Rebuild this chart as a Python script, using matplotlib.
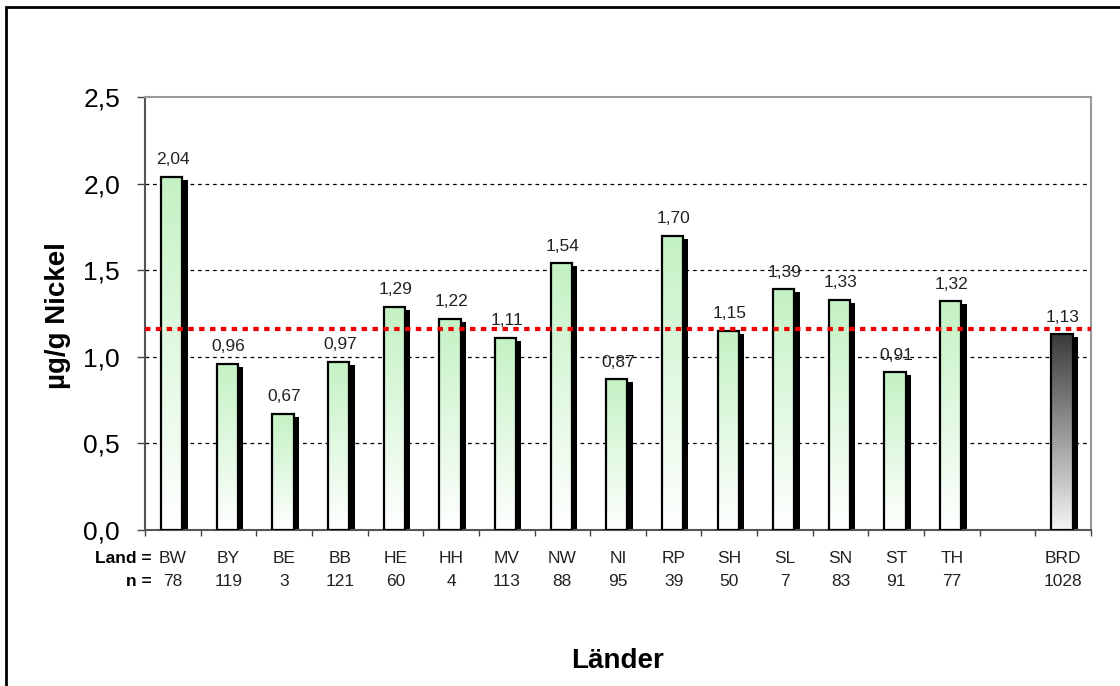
import numpy as np
import matplotlib
matplotlib.use('Agg')
import matplotlib.pyplot as plt
from matplotlib.colors import LinearSegmentedColormap
from matplotlib.patches import Rectangle
from matplotlib.ticker import FuncFormatter, FixedLocator

plt.rcParams['font.family'] = ['Liberation Sans', 'DejaVu Sans']

# Nickel in soil by federal state (mean µg/g)
lands = ['BW', 'BY', 'BE', 'BB', 'HE', 'HH', 'MV', 'NW', 'NI', 'RP', 'SH', 'SL', 'SN', 'ST', 'TH']
values = [2.04, 0.96, 0.67, 0.97, 1.29, 1.22, 1.11, 1.54, 0.87, 1.70, 1.15, 1.39, 1.33, 0.91, 1.32]
counts = [78, 119, 3, 121, 60, 4, 113, 88, 95, 39, 50, 7, 83, 91, 77]
total_label = 'BRD'
total_value = 1.13
total_count = 1028
reference_level = 1.16

fig = plt.figure(figsize=(11.2, 6.86), dpi=100)
ax = fig.add_axes([0.1295, 0.2274, 0.8445, 0.6312])

green = LinearSegmentedColormap.from_list('g', ['#ffffff', '#c4f2c4'])
grey = LinearSegmentedColormap.from_list('k', ['#f4f4f4', '#3a3a3a'])
grad = np.linspace(0, 1, 256).reshape(-1, 1)

width = 0.38
dx = 0.095   # shadow shift to the right
dy = 0.017   # shadow shift downwards

def draw_bar(x, h, cmap):
    x0 = x - width / 2 - 0.02
    # black drop shadow
    ax.add_patch(Rectangle((x0 + dx, 0), width, h - dy, facecolor='black',
                           edgecolor='black', lw=0, zorder=2))
    # gradient fill
    ax.imshow(grad, extent=[x0, x0 + width, 0, h], origin='lower', cmap=cmap,
              aspect='auto', zorder=3, interpolation='bilinear')
    ax.add_patch(Rectangle((x0, 0), width, h, facecolor='none',
                           edgecolor='black', lw=1.6, zorder=4))
    ax.annotate(f'{h:.2f}'.replace('.', ','), (x, h), xytext=(0, 9),
                textcoords='offset points', ha='center', va='baseline',
                fontsize=12.5, color='#222222', zorder=6)

positions = list(range(len(lands)))
for x, v in zip(positions, values):
    draw_bar(x, v, green)
total_pos = len(lands) + 1
draw_bar(total_pos, total_value, grey)

ax.set_xlim(-0.5, total_pos + 0.5)
ax.set_ylim(0, 2.5)

# horizontal gridlines and the overall mean line
for y in [0.5, 1.0, 1.5, 2.0]:
    ax.axhline(y, color='black', lw=0.9, ls=(0, (3, 3)), zorder=1)
ax.axhline(reference_level, color='#ee0000', lw=3, ls=(0, (1.3, 1.3)), zorder=5)

ax.set_yticks([0, 0.5, 1.0, 1.5, 2.0, 2.5])
ax.yaxis.set_major_formatter(FuncFormatter(lambda v, p: f'{v:.1f}'.replace('.', ',')))
ax.tick_params(axis='y', labelsize=19, length=6, width=1, color='#444444', pad=12)

ax.xaxis.set_major_locator(FixedLocator(np.arange(-0.5, total_pos + 1, 1.0)))
ax.set_xticklabels([])
ax.tick_params(axis='x', length=4.5, width=1, color='#444444')

for side in ['left', 'bottom']:
    ax.spines[side].set_color('#555555')
    ax.spines[side].set_linewidth(1.5)
for side in ['top', 'right']:
    ax.spines[side].set_color('#999999')
    ax.spines[side].set_linewidth(1.5)

# category rows under the axis
tr = ax.get_xaxis_transform()
for x, name, n in zip(positions + [total_pos], lands + [total_label], counts + [total_count]):
    ax.text(x, -0.065, name, transform=tr, ha='center', va='center', fontsize=12.5, color='#222222')
    ax.text(x, -0.12, str(n), transform=tr, ha='center', va='center', fontsize=12.5, color='#222222')
ax.text(-0.38, -0.065, 'Land =', transform=tr, ha='right', va='center', fontsize=12.5, fontweight='bold')
ax.text(-0.38, -0.12, 'n =', transform=tr, ha='right', va='center', fontsize=12.5, fontweight='bold')

fig.text(0.052, 0.54, 'µg/g Nickel', rotation=90, ha='center', va='center', fontsize=20, fontweight='bold')
fig.text(0.551, 0.036, 'Länder', ha='center', va='center', fontsize=20, fontweight='bold')

# outer frame
fig.add_artist(Rectangle((6 / 1120, -0.1), 1.2, 1.1 - 7 / 686, transform=fig.transFigure,
                         facecolor='none', edgecolor='black', lw=2))

fig.savefig('out.png', dpi=100)
